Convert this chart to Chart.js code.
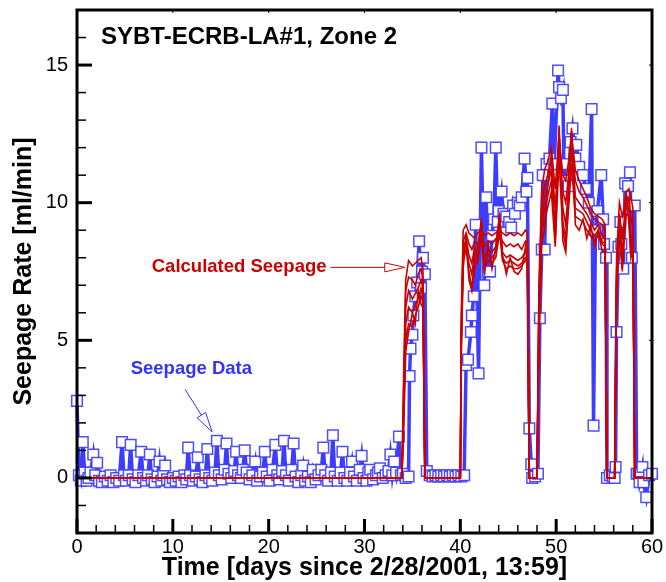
<!DOCTYPE html>
<html>
<head>
<meta charset="utf-8">
<script src="https://cdn.jsdelivr.net/npm/chart.js@4.4.0/dist/chart.umd.min.js"></script>
<style>
  html, body { margin: 0; padding: 0; background: #fff; }
</style>
</head>
<body>
<canvas id="myChart" width="666" height="582"></canvas>
<script>

// measured seepage, zone 2
const seepageDays = [
  0.0, 0.2, 0.4, 0.6, 0.8, 1.0, 1.2, 1.4, 1.7, 1.9,
  2.1, 2.3, 2.6, 2.9, 3.2, 3.5, 3.8, 4.1, 4.4, 4.7,
  4.9, 5.1, 5.4, 5.6, 5.8, 6.1, 6.4, 6.7, 6.9, 7.2,
  7.4, 7.6, 7.8, 8.1, 8.4, 8.6, 8.8, 9.0, 9.2, 9.4,
  9.7, 10.0, 10.3, 10.6, 10.9, 11.2, 11.4, 11.6, 11.8, 12.1,
  12.4, 12.6, 12.8, 13.1, 13.4, 13.6, 13.8, 14.1, 14.4, 14.6,
  14.8, 15.1, 15.4, 15.6, 15.8, 16.1, 16.4, 16.6, 16.8, 17.1,
  17.3, 17.5, 17.7, 18.0, 18.3, 18.6, 18.8, 19.1, 19.4, 19.6,
  19.8, 20.1, 20.4, 20.7, 20.9, 21.1, 21.4, 21.6, 21.8, 22.1,
  22.4, 22.6, 22.8, 23.1, 23.4, 23.6, 23.8, 24.1, 24.4, 24.6,
  24.9, 25.2, 25.5, 25.7, 25.9, 26.2, 26.5, 26.7, 26.9, 27.2,
  27.5, 27.7, 27.9, 28.2, 28.5, 28.7, 28.9, 29.2, 29.5, 29.7,
  29.9, 30.2, 30.4, 30.6, 30.9, 31.2, 31.4, 31.6, 31.9, 32.2,
  32.5, 32.7, 32.9, 33.1, 33.3, 33.6, 33.8, 34.0, 34.3, 34.6,
  34.7, 34.8, 35.0, 35.1, 35.3, 35.5, 35.7, 35.9, 36.0, 36.1,
  36.3, 36.5, 36.8, 37.1, 37.4, 37.7, 38.0, 38.3, 38.6, 38.9,
  39.2, 39.5, 39.8, 40.1, 40.4, 40.6, 40.8, 41.1, 41.2, 41.4,
  41.6, 41.9, 42.2, 42.5, 42.7, 42.9, 43.1, 43.3, 43.5, 43.7,
  43.9, 44.0, 44.3, 44.5, 44.8, 45.1, 45.3, 45.5, 45.7, 46.0,
  46.2, 46.4, 46.7, 46.9, 47.0, 47.2, 47.4, 47.5, 47.8, 48.1,
  48.3, 48.5, 48.6, 48.8, 49.0, 49.3, 49.6, 49.8, 50.2, 50.3,
  50.5, 50.7, 50.8, 51.0, 51.3, 51.5, 51.7, 52.0, 52.1, 52.4,
  52.8, 53.1, 53.4, 53.7, 53.9, 54.1, 54.3, 54.7, 54.9, 55.0,
  55.2, 55.3, 55.6, 55.9, 56.1, 56.2, 56.3, 56.5, 56.7, 56.8,
  57.0, 57.2, 57.5, 57.7, 57.9, 58.2, 58.4, 58.6, 58.7, 59.0,
  59.1, 59.4, 59.7, 60.0
];
const seepageRate = [
  2.8, 0.1, -0.1, 1.3, 0.2, -0.1, 0.0, 0.2, 0.85, 0.1,
  0.55, -0.1, -0.15, 0.05, -0.1, 0.1, -0.15, 0.0, -0.1, 1.3,
  0.1, -0.1, 0.1, 1.2, -0.05, -0.15, 0.1, 0.95, 0.0, -0.1,
  0.1, 0.85, -0.05, -0.15, 0.05, 0.6, -0.1, 0.1, 0.45, -0.05,
  -0.15, 0.0, -0.1, 0.05, -0.15, 0.1, -0.05, 1.1, 0.1, -0.1,
  0.05, 0.75, -0.05, -0.15, 0.1, 1.05, 0.0, -0.1, 0.2, 1.35,
  0.1, -0.05, 0.3, 1.25, 0.15, 0.0, 0.25, 0.95, 0.1, 0.0,
  0.3, 1.0, 0.2, -0.05, 0.1, 0.6, -0.1, 0.05, 0.2, 0.95,
  0.05, -0.1, 0.3, 1.2, 0.1, -0.05, 0.25, 1.35, 0.1, -0.1,
  0.3, 1.25, 0.05, -0.15, 0.1, 0.45, -0.1, 0.05, -0.15, 0.3,
  -0.05, 0.1, 0.3, 1.1, 0.1, -0.1, 0.2, 1.55, 0.05, -0.1,
  0.2, 0.95, 0.0, -0.1, 0.2, 0.6, 0.05, -0.1, 0.3, 0.8,
  0.0, -0.1, 0.2, 0.3, -0.05, 0.1, 0.2, 0.35, 0.0, 0.1,
  0.25, 0.85, 0.1, 0.6, 0.2, 1.5, 0.1, 0.15, 0.0, 0.05,
  3.7, 4.7, 5.2, 5.9, 6.6, 7.1, 8.6, 6.9, 7.5, 8.0,
  7.4, 0.25, 0.1, 0.05, 0.1, 0.05, 0.1, 0.05, 0.1, 0.05,
  0.1, 0.05, 0.1, 0.05, 0.1, 4.1, 4.3, 5.3, 5.9, 6.6,
  9.2, 3.8, 12.0, 7.0, 10.2, 7.5, 7.5, 8.8, 9.4, 12.0,
  9.3, 9.7, 10.4, 9.6, 9.5, 9.3, 9.1, 9.9, 9.6, 10.0,
  9.9, 10.2, 11.6, 10.4, 10.9, 1.8, 0.5, 0.0, 0.05, 0.15,
  5.8, 8.3, 11.0, 8.3, 11.4, 11.6, 13.6, 11.4, 14.8, 14.2,
  13.8, 14.1, 11.4, 10.8, 10.6, 12.2, 12.7, 11.6, 12.1, 11.3,
  11.0, 10.5, 10.0, 13.4, 1.9, 9.0, 9.7, 11.0, 9.4, 8.5,
  8.0, 0.0, 0.1, 0.05, 0.0, 0.4, 5.3, 8.4, 9.3, 8.5,
  7.6, 10.7, 10.6, 11.1, 8.0, 9.9, 0.15, 0.15, -0.15, 0.4,
  -0.15, -0.7, 0.1, 0.15
];

// calculated seepage, one array per model run
const calcDays = [
  0, 33.9,
  34.1, 34.3, 34.6, 35.0, 35.3, 35.6, 35.9, 36.1,
  36.3, 40.0,
  40.1, 40.3, 40.6, 40.9, 41.2, 41.5, 41.8, 42.2, 42.5, 42.9, 43.3, 43.7, 44.1, 44.4, 44.8, 45.2, 45.6, 46.0, 46.4, 46.8, 47.0,
  47.2, 48.0,
  48.2, 48.5, 48.8, 49.1, 49.5, 49.9, 50.3, 50.7, 51.0, 51.3, 51.6, 52.0, 52.4, 52.8, 53.2, 53.6, 54.0, 54.4, 54.8, 55.1,
  55.3, 56.1,
  56.3, 56.6, 56.9, 57.1, 57.3, 57.6, 57.8, 58.0,
  58.2, 60
];
const calcA = [
  0, 0,
  4.0, 7.2, 7.9, 7.7, 7.8, 7.9, 8.0, 7.6,
  0, 0,
  6.0, 9.0, 9.2, 8.9, 8.8, 8.7, 8.9, 9.0, 8.8, 8.9, 8.8, 8.9, 9.0, 8.9, 8.8, 8.9, 8.8, 8.9, 8.8, 9.0, 8.9,
  0, 0,
  7.0, 10.5, 11.2, 11.5, 12.0, 10.5, 12.4, 11.0, 10.8, 11.5, 12.5, 11.2, 10.8, 10.5, 10.2, 9.8, 9.6, 9.5, 9.4, 9.2,
  0, 0,
  8.0, 10.0, 9.5, 9.8, 10.4, 10.5, 10.2, 9.8,
  0, 0
];
const calcB = [
  0, 0,
  3.5, 6.8, 7.3, 7.2, 7.0, 7.4, 7.6, 7.2,
  0, 0,
  5.5, 8.6, 8.9, 8.5, 8.3, 8.6, 8.5, 8.7, 8.4, 8.6, 8.5, 8.7, 8.8, 8.6, 8.4, 8.5, 8.4, 8.5, 8.3, 8.6, 8.5,
  0, 0,
  6.5, 10.0, 10.6, 11.0, 11.6, 9.8, 12.0, 10.4, 10.0, 11.0, 12.2, 10.8, 10.4, 10.2, 9.9, 9.6, 9.4, 9.3, 9.2, 9.0,
  0, 0,
  7.5, 9.6, 8.8, 9.3, 10.0, 10.2, 9.4, 9.2,
  0, 0
];
const calcC = [
  0, 0,
  3.0, 6.2, 6.8, 6.5, 6.7, 6.9, 7.2, 6.9,
  0, 0,
  5.2, 8.3, 8.7, 8.1, 7.8, 8.4, 8.2, 9.3, 8.0, 8.3, 8.2, 8.4, 9.5, 8.2, 8.0, 8.1, 8.0, 7.9, 8.0, 8.2, 8.1,
  0, 0,
  6.0, 9.5, 10.2, 10.6, 11.2, 9.0, 12.8, 9.8, 9.2, 10.6, 12.6, 10.2, 10.0, 9.8, 9.6, 9.3, 9.0, 9.2, 8.8, 8.7,
  0, 0,
  7.2, 9.3, 8.2, 9.0, 10.3, 10.0, 8.6, 8.8,
  0, 0
];
const calcD = [
  0, 0,
  2.6, 5.6, 6.2, 6.0, 6.3, 6.5, 6.9, 6.6,
  0, 0,
  5.0, 8.1, 8.5, 7.8, 7.4, 8.2, 8.0, 9.0, 7.8, 8.1, 8.0, 8.2, 9.2, 8.0, 7.8, 7.9, 7.8, 7.7, 7.8, 8.0, 7.9,
  0, 0,
  5.5, 9.2, 9.8, 10.2, 10.8, 8.7, 12.2, 9.3, 8.7, 10.2, 12.0, 9.8, 9.7, 9.6, 9.3, 9.0, 8.8, 9.0, 8.6, 8.5,
  0, 0,
  7.0, 9.0, 7.8, 8.8, 9.9, 9.8, 8.3, 8.6,
  0, 0
];
const calcE = [
  0, 0,
  2.2, 5.0, 5.6, 5.5, 5.9, 6.2, 6.6, 6.4,
  0, 0,
  4.8, 7.9, 8.3, 7.5, 6.9, 7.9, 7.8, 8.8, 7.6, 7.9, 7.8, 8.0, 8.9, 7.9, 7.6, 7.7, 7.6, 7.6, 7.7, 7.9, 7.8,
  0, 0,
  5.0, 9.0, 9.4, 9.8, 10.4, 8.4, 11.6, 9.0, 8.4, 9.8, 11.4, 9.5, 9.4, 9.3, 9.0, 8.8, 8.6, 8.8, 8.5, 8.4,
  0, 0,
  6.8, 8.8, 7.6, 8.6, 9.6, 9.5, 8.0, 8.4,
  0, 0
];
const calcF = [
  0, 0,
  2.0, 4.6, 5.3, 6.0, 5.6, 6.8, 6.3, 6.2,
  0, 0,
  4.5, 7.6, 8.8, 7.2, 6.8, 7.6, 8.3, 9.4, 7.4, 8.5, 7.6, 8.4, 9.6, 8.1, 7.4, 8.0, 7.5, 7.4, 7.6, 8.4, 7.7,
  0, 0,
  4.8, 8.6, 9.0, 10.5, 11.8, 8.6, 12.6, 8.6, 8.2, 10.4, 12.7, 9.2, 9.0, 9.4, 8.7, 9.2, 8.4, 9.0, 8.2, 8.3,
  0, 0,
  6.5, 9.2, 7.5, 9.2, 10.4, 9.2, 8.0, 9.0,
  0, 0
];
const calcRuns = [calcA, calcB, calcC, calcD, calcE, calcF];

const xMajorTicks = [0, 10, 20, 30, 40, 50, 60];
const yMajorTicks = [0, 5, 10, 15];
const xMinorStep = 2;
const yMinorStep = 1;

const FONT = "'Liberation Sans', Arial, Helvetica, sans-serif";
Chart.defaults.font.family = FONT;
Chart.defaults.color = '#000';

const RED = '#cc0000';
const BLUE = '#3333ff';

function toPoints(xs, ys) {
  return xs.map((x, i) => ({ x: x, y: ys[i] }));
}

function arrow(ctx, x1, y1, x2, y2, color, headLen, headHalf) {
  const ang = Math.atan2(y2 - y1, x2 - x1);
  const bx = x2 - headLen * Math.cos(ang), by = y2 - headLen * Math.sin(ang);
  ctx.strokeStyle = color;
  ctx.lineWidth = 1;
  ctx.beginPath();
  ctx.moveTo(x1, y1);
  ctx.lineTo(bx, by);
  ctx.stroke();
  const nx = -Math.sin(ang) * headHalf, ny = Math.cos(ang) * headHalf;
  ctx.beginPath();
  ctx.moveTo(x2, y2);
  ctx.lineTo(bx + nx, by + ny);
  ctx.lineTo(bx - nx, by - ny);
  ctx.closePath();
  ctx.fillStyle = '#fff';
  ctx.fill();
  ctx.stroke();
}

// inward ticks + box frame, tecplot style
const framePlugin = {
  id: 'frame',
  afterDatasetsDraw(chart) {
    const ctx = chart.ctx, a = chart.chartArea;
    const sx = chart.scales.x, sy = chart.scales.y;
    ctx.save();
    ctx.strokeStyle = '#000';
    for (let v = sx.min; v <= sx.max; v += xMinorStep) {
      const px = sx.getPixelForValue(v);
      const major = xMajorTicks.includes(v);
      ctx.lineWidth = major ? 3 : 1.5;
      ctx.beginPath();
      ctx.moveTo(px, a.bottom);
      ctx.lineTo(px, a.bottom - (major ? 14 : 8));
      ctx.stroke();
      if (major) {
        ctx.lineWidth = 1;
        ctx.beginPath();
        ctx.moveTo(px, a.top);
        ctx.lineTo(px, a.top + 3);
        ctx.stroke();
      }
    }
    for (let v = sy.min; v <= sy.max; v += yMinorStep) {
      const py = sy.getPixelForValue(v);
      const major = yMajorTicks.includes(v);
      ctx.lineWidth = major ? 3 : 1.5;
      ctx.beginPath();
      ctx.moveTo(a.left, py);
      ctx.lineTo(a.left + (major ? 15 : 9), py);
      ctx.stroke();
      if (major) {
        ctx.lineWidth = 1;
        ctx.beginPath();
        ctx.moveTo(a.right, py);
        ctx.lineTo(a.right - 3, py);
        ctx.stroke();
      }
    }
    ctx.lineWidth = 3;
    ctx.strokeRect(a.left, a.top, a.right - a.left, a.bottom - a.top);
    ctx.restore();
  }
};

const notesPlugin = {
  id: 'notes',
  afterDatasetsDraw(chart) {
    const ctx = chart.ctx;
    const sx = chart.scales.x, sy = chart.scales.y;
    const X = v => sx.getPixelForValue(v), Y = v => sy.getPixelForValue(v);
    ctx.save();
    ctx.textBaseline = 'middle';
    ctx.textAlign = 'left';

    ctx.fillStyle = '#000';
    ctx.font = 'bold 24px ' + FONT;
    ctx.fillText('SYBT-ECRB-LA#1, Zone 2', X(2.5), Y(16.0));

    ctx.font = 'bold 18.5px ' + FONT;
    ctx.fillStyle = RED;
    const calcText = 'Calculated Seepage';
    const cx = X(7.8), cy = Y(7.65);
    ctx.fillText(calcText, cx, cy);
    const cw = ctx.measureText(calcText).width;
    arrow(ctx, cx + cw + 4, cy, X(34.2), cy, RED, 20, 4.5);

    ctx.fillStyle = BLUE;
    ctx.fillText('Seepage Data', X(5.6), Y(3.95));
    arrow(ctx, X(11.27), Y(3.22), X(14.1), Y(1.67), BLUE, 20, 5);
    ctx.restore();
  }
};

const redSets = calcRuns.map(run => ({
  data: toPoints(calcDays, run),
  borderColor: RED,
  borderWidth: 1.6,
  pointRadius: 0,
  tension: 0,
  fill: false
}));

const dataSet = {
  data: toPoints(seepageDays, seepageRate),
  borderColor: 'rgba(40,40,255,0.9)',
  borderWidth: 3.5,
  pointStyle: 'rect',
  pointRadius: 7.5,
  pointBackgroundColor: '#ffffff',
  pointBorderColor: 'rgba(60,60,255,0.9)',
  pointBorderWidth: 1.5,
  tension: 0,
  clip: false
};

function noPad(s) {
  s.paddingTop = 0;
  s.paddingBottom = 0;
  s.paddingLeft = 0;
  s.paddingRight = 0;
}

const chart = new Chart(document.getElementById('myChart'), {
  type: 'line',
  data: { datasets: redSets.concat([dataSet]) },
  options: {
    responsive: false,
    animation: false,
    layout: { padding: { top: 10, right: 14, left: 0, bottom: 0 } },
    plugins: { legend: { display: false }, tooltip: { enabled: false } },
    scales: {
      x: {
        type: 'linear',
        min: 0,
        max: 60,
        afterBuildTicks: s => { s.ticks = xMajorTicks.map(v => ({ value: v })); },
        afterFit: s => { s.height = 49; noPad(s); },
        ticks: { font: { size: 20 }, color: '#000', padding: 2, maxRotation: 0, autoSkip: false },
        grid: { display: false, drawTicks: false },
        border: { display: false },
        title: {
          display: true,
          text: 'Time [days since 2/28/2001, 13:59]',
          color: '#000',
          font: { size: 25, weight: 'bold', lineHeight: 1 },
          padding: { top: 0, bottom: 1 }
        }
      },
      y: {
        type: 'linear',
        min: -2,
        max: 17,
        afterBuildTicks: s => { s.ticks = yMajorTicks.map(v => ({ value: v })); },
        afterFit: s => { s.width = 77; noPad(s); },
        ticks: { font: { size: 20 }, color: '#000', padding: 9 },
        grid: { display: false, drawTicks: false },
        border: { display: false },
        title: {
          display: true,
          text: 'Seepage Rate [ml/min]',
          color: '#000',
          font: { size: 25, weight: 'bold', lineHeight: 1 },
          padding: { top: 12, bottom: 0 }
        }
      }
    }
  },
  plugins: [framePlugin, notesPlugin]
});
</script>
</body>
</html>
